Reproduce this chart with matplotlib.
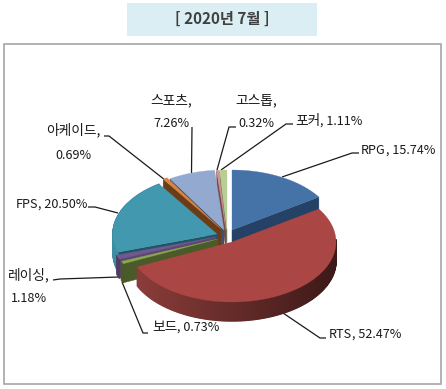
import numpy as np
import matplotlib
matplotlib.use("Agg")
import matplotlib.pyplot as plt
from matplotlib.patches import Polygon, Rectangle

plt.rcParams['font.family'] = ['Noto Sans CJK KR', 'DejaVu Sans']

title = "[ 2020년 7월 ]"
categories = ["RPG", "RTS", "보드", "레이싱", "FPS", "아케이드", "스포츠", "고스톱", "포커"]
values = [15.74, 52.47, 0.73, 1.18, 20.50, 0.69, 7.26, 0.32, 1.11]

top_colors = ["#4572A7", "#AA4643", "#89A54E", "#71588F", "#4198AF", "#DB843D", "#93A9CF", "#D19392", "#B9CD96"]
face_colors = ["#254165", "#5a2523", "#4A5A28", "#5B4674", "#1F5566", "#6B3D17", "#3F5070", "#7a4a49", "#6f7f55"]
wall_left = ["#3a5f8c", "#8E3E3B", "#55692f", "#5d4777", "#3E8CA4", "#9a5c28", "#6f83a8", "#9d6e6d", "#8d9e70"]
wall_right = ["#1f3650", "#3C1917", "#3c4a20", "#40304f", "#2a6070", "#5e3814", "#3a4a68", "#6a4443", "#5a6a40"]
centers = [(232, 230), (232, 242), (218, 239), (216, 237), (217, 234), (221, 229), (224, 230), (226, 230), (227, 230)]
draw_order = [8, 7, 6, 5, 4, 3, 2, 0, 1]
RX, RY, DEPTH = 104, 60, 19

# label anchors: x, y of the first line, ha, y of second line (None = single line)
label_pos = [(361, 150, "left", None), (329, 334, "left", None), (152, 327, "left", None),
             (29, 275, "center", 299), (16, 204, "left", None), (73, 130, "center", 155),
             (171, 100, "center", 123), (256, 100, "center", 123), (295, 121, "left", None)]
leaders = [[(282, 177), (352, 153), (359, 153)], [(283, 313), (320, 338), (326, 338)],
           [(122, 282), (143, 333), (148, 333)], [(119, 277), (60, 279), (53, 280)],
           [(118, 213), (95, 207), (88, 207)], [(165, 180), (109, 136), (104, 136)],
           [(191.5, 173), (192, 127)], [(217, 170), (229, 127), (236, 127)],
           [(221, 170), (286, 124), (293, 124)]]

fig = plt.figure(figsize=(4.46, 3.89), dpi=100, facecolor="white")
ax = fig.add_axes([0, 0, 1, 1])
ax.set_xlim(0, 446)
ax.set_ylim(389, 0)
ax.axis("off")

ax.add_patch(Rectangle((127, 3), 190, 33, fc="#DAEEF3", ec="none"))
ax.text(222, 19, title, ha="center", va="center", fontsize=11, fontweight="bold", color="#404040")
ax.add_patch(Rectangle((3.5, 43.5), 437.5, 340, fc="white", ec="#A6A6A6", lw=1.2))

for pts in leaders:
    xs, ys = zip(*pts)
    ax.plot(xs, ys, color="#1a1a1a", lw=0.9, zorder=2, solid_capstyle="butt")


def pt(c, a):
    return c[0] + RX * np.sin(a), c[1] - RY * np.cos(a)


cum = np.concatenate([[0], np.cumsum(values)]) / sum(values) * 2 * np.pi
z = 3
for i in draw_order:
    a0, a1, c = cum[i], cum[i + 1], centers[i]
    arc = np.linspace(a0, a1, max(int((a1 - a0) * 60), 2))
    ox, oy = pt(c, arc)
    for edge, vis in ((a0, np.sin(a0) < -1e-6), (a1, np.sin(a1) > 1e-6)):
        if vis:
            ex, ey = pt(c, edge)
            ax.add_patch(Polygon([c, (ex, ey), (ex, ey + DEPTH), (c[0], c[1] + DEPTH)],
                                 fc=face_colors[i], ec=face_colors[i], lw=0.3, zorder=z))
    l = np.array(matplotlib.colors.to_rgb(wall_left[i]))
    r = np.array(matplotlib.colors.to_rgb(wall_right[i]))
    for k in range(len(arc) - 1):
        am = (arc[k] + arc[k + 1]) / 2
        if np.cos(am) < 0.05 or i in (4, 3, 2):
            t = (np.sin(am) * -1 + 1) / 2
            col = l * t + r * (1 - t) if i == 1 else (l * 0.5 + r * 0.5 if i != 4 else l)
            ax.add_patch(Polygon([(ox[k], oy[k]), (ox[k + 1], oy[k + 1]),
                                  (ox[k + 1], oy[k + 1] + DEPTH), (ox[k], oy[k] + DEPTH)],
                                 fc=col, ec=col, lw=1.0, joinstyle="bevel", zorder=z))
    ax.add_patch(Polygon(np.column_stack([np.r_[c[0], ox], np.r_[c[1], oy]]),
                         fc=top_colors[i], ec=top_colors[i], lw=0.2, zorder=z + 0.5))
    z += 1

KO_SIZE, NUM_SIZE = 9.9, 9.1
TXT = "#1a1a1a"
renderer = fig.canvas.get_renderer()


def width(s, size):
    t = ax.text(0, 0, s, fontsize=size)
    w = t.get_window_extent(renderer).width
    t.remove()
    return w


for cat, v, (x, y, ha, y2) in zip(categories, values, label_pos):
    num = f"{v:.2f}%"
    is_ko = not cat.isascii()
    cat_size = KO_SIZE if is_ko else NUM_SIZE
    if y2 is None:
        ax.text(x, y, cat, ha="left", va="center", fontsize=cat_size, color=TXT, zorder=30)
        x2 = x + width(cat, cat_size)
        ax.text(x2, y, f", {num}", ha="left", va="center", fontsize=NUM_SIZE, color=TXT, zorder=30)
    else:
        ax.text(x, y, f"{cat},", ha=ha, va="center", fontsize=cat_size, color=TXT, zorder=30)
        ax.text(x, y2, num, ha=ha, va="center", fontsize=NUM_SIZE, color=TXT, zorder=30)

fig.savefig("out.png", dpi=100, facecolor="white")
